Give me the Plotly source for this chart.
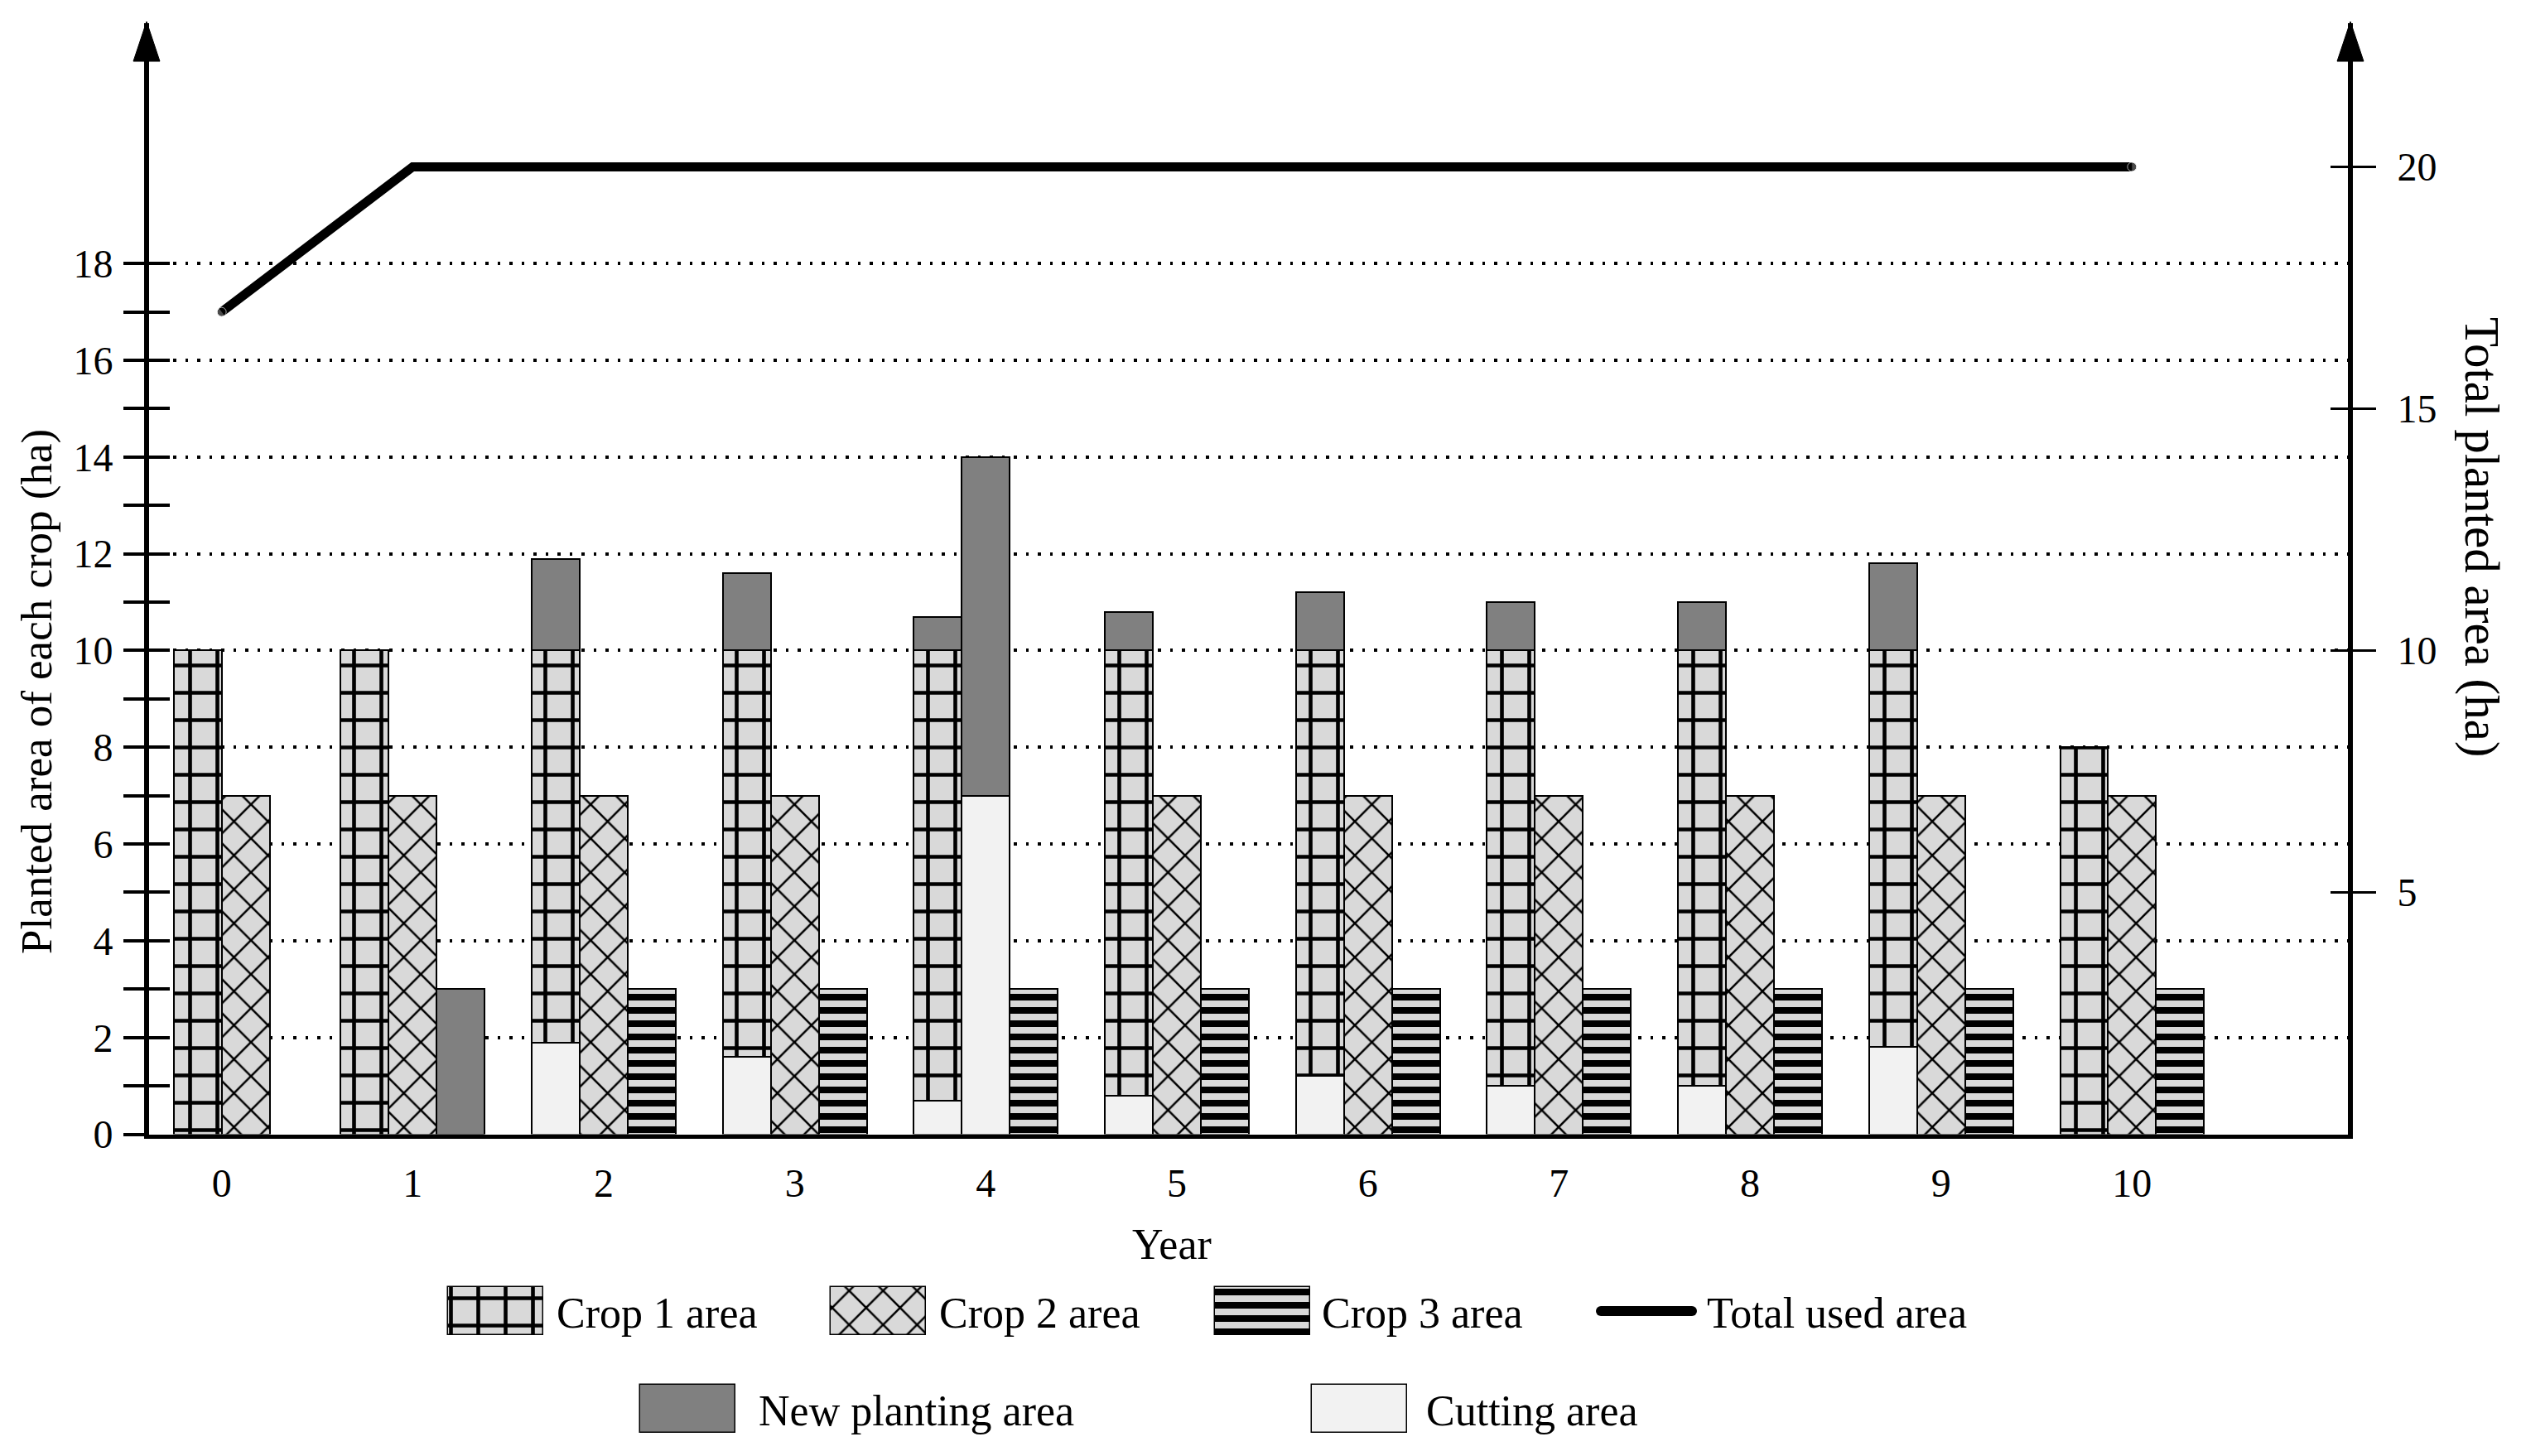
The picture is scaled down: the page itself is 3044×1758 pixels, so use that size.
import plotly.graph_objects as go

# ---------------- data ----------------
years = list(range(11))
year_labels = [str(y) for y in years]
crop1_area = [10, 10, 10, 10, 10, 10, 10, 10, 10, 10, 8]
crop2_area = [7, 7, 7, 7, 0, 7, 7, 7, 7, 7, 7]
crop3_area = [0, 0, 3, 3, 3, 3, 3, 3, 3, 3, 3]
cut_crop1 = [0, 0, 1.9, 1.6, 0.7, 0.8, 1.2, 1.0, 1.0, 1.8, 0]
new_crop1 = [0, 0, 1.9, 1.6, 0.7, 0.8, 1.2, 1.0, 1.0, 1.8, 0]
cut_crop2 = [0, 0, 0, 0, 7, 0, 0, 0, 0, 0, 0]
new_crop2 = [0, 0, 0, 0, 7, 0, 0, 0, 0, 0, 0]
new_crop3 = [0, 3, 0, 0, 0, 0, 0, 0, 0, 0, 0]
total_used = [17, 20, 20, 20, 20, 20, 20, 20, 20, 20, 20]
left_ticks = [0, 2, 4, 6, 8, 10, 12, 14, 16, 18]
right_ticks = [5, 10, 15, 20]
legend_labels = ["Crop 1 area", "Crop 2 area", "Crop 3 area", "Total used area",
                 "New planting area", "Cutting area"]

# ---------------- layout constants (pixels) ----------------
W, H = 3044, 1758
FONT = "Liberation Serif"
X_LEFT, X_RIGHT = 180, 2835       # plot domain (px)
Y_TOP, Y_BOT = 28, 1369.5
XR = [-0.38, 11.13]
YR = [0, 22.97]
BW = 0.251                         # bar width in x units

def px(x):
    return x / W

def py(y):
    return 1 - y / H

CROP_BG = "#d9d9d9"
NEW_C = "#808080"
CUT_C = "#f2f2f2"
OUT = dict(color="black", width=2)

pat1 = dict(shape="+", size=33, solidity=0.26, fgcolor="black", bgcolor=CROP_BG, fillmode="replace")
pat2 = dict(shape="x", size=29, solidity=0.17, fgcolor="black", bgcolor=CROP_BG, fillmode="replace")
pat3 = dict(shape="-", size=16, solidity=0.5, fgcolor="black", bgcolor=CROP_BG, fillmode="replace")

# column positions per year
col_x = []
for i, yv in enumerate(years):
    n = 3 if (crop3_area[i] > 0 or new_crop3[i] > 0) else 2
    col_x.append([yv + (k - (n - 1) / 2) * BW for k in range(n)])

def nz(v):
    return v if v > 0 else None

fig = go.Figure()

# crop 1 column
fig.add_trace(go.Bar(x=[c[0] for c in col_x], y=[nz(crop1_area[i] - cut_crop1[i]) for i in range(11)],
                     base=cut_crop1, width=BW, marker=dict(pattern=pat1, line=OUT), showlegend=False))
# crop 2 column
fig.add_trace(go.Bar(x=[c[1] for c in col_x], y=[nz(v) for v in crop2_area],
                     base=0, width=BW, marker=dict(pattern=pat2, line=OUT), showlegend=False))
# crop 3 column
x3 = [col_x[i][2] for i in range(11) if len(col_x[i]) == 3]
y3 = [nz(crop3_area[i]) for i in range(11) if len(col_x[i]) == 3]
fig.add_trace(go.Bar(x=x3, y=y3, base=0, width=BW, marker=dict(pattern=pat3, line=OUT), showlegend=False))

# cutting area (bottom of columns)
cx, cy = [], []
for i in range(11):
    if cut_crop1[i] > 0:
        cx.append(col_x[i][0]); cy.append(cut_crop1[i])
    if cut_crop2[i] > 0:
        cx.append(col_x[i][1]); cy.append(cut_crop2[i])
fig.add_trace(go.Bar(x=cx, y=cy, base=0, width=BW, marker=dict(color=CUT_C, line=OUT), showlegend=False))

# new planting area (on top)
nx, ny, nb = [], [], []
for i in range(11):
    if new_crop1[i] > 0:
        nx.append(col_x[i][0]); ny.append(new_crop1[i]); nb.append(crop1_area[i])
    if new_crop2[i] > 0:
        nx.append(col_x[i][1]); ny.append(new_crop2[i]); nb.append(cut_crop2[i])
    if new_crop3[i] > 0:
        nx.append(col_x[i][2]); ny.append(new_crop3[i]); nb.append(0)
fig.add_trace(go.Bar(x=nx, y=ny, base=nb, width=BW, marker=dict(color=NEW_C, line=OUT), showlegend=False))

# total used area line on right axis
msize = [11] + [0] * 9 + [11]
fig.add_trace(go.Scatter(x=years, y=total_used, yaxis="y2", mode="lines+markers",
                         line=dict(color="black", width=11),
                         marker=dict(size=msize, color="black"), showlegend=False))

# ---------------- custom legend (pixel-space subplot) ----------------
sw_w, sw_h = 115, 58
row1, row2 = 1583, 1701
leg_items = [
    (legend_labels[0], 541, row1, dict(pattern=pat1, line=dict(color="black", width=1.5)), 670),
    (legend_labels[1], 1003, row1, dict(pattern=pat2, line=dict(color="black", width=1.5)), 1132),
    (legend_labels[2], 1467, row1, dict(pattern=pat3, line=dict(color="black", width=1.5)), 1594),
    (legend_labels[4], 773, row2, dict(color=NEW_C, line=dict(color="black", width=1.5)), 914),
    (legend_labels[5], 1584, row2, dict(color=CUT_C, line=dict(color="black", width=1.5)), 1720),
]
annotations = []
for lab, x0, yc, mk, tx in leg_items:
    fig.add_trace(go.Bar(orientation="h", y=[yc], x=[sw_w], base=[x0], width=sw_h,
                         marker=mk, xaxis="x5", yaxis="y5", showlegend=False))
    annotations.append(dict(x=px(tx), y=py(yc + 2), xref="paper", yref="paper", text=lab,
                            showarrow=False, xanchor="left", yanchor="middle",
                            font=dict(family=FONT, size=52, color="black")))
fig.add_trace(go.Scatter(x=[1933, 2043], y=[row1, row1], mode="lines+markers",
                         line=dict(color="black", width=12), marker=dict(size=12, color="black"),
                         xaxis="x5", yaxis="y5", showlegend=False))
annotations.append(dict(x=px(2059), y=py(row1 + 2), xref="paper", yref="paper", text=legend_labels[3],
                        showarrow=False, xanchor="left", yanchor="middle",
                        font=dict(family=FONT, size=52, color="black")))

# axis titles
annotations.append(dict(x=px(45), y=py(835), xref="paper", yref="paper",
                        text="Planted area of each crop (ha)", textangle=-90, showarrow=False,
                        xanchor="center", yanchor="middle", font=dict(family=FONT, size=53, color="black")))
annotations.append(dict(x=px(2997), y=py(649), xref="paper", yref="paper",
                        text="Total planted area (ha)", textangle=90, showarrow=False,
                        xanchor="center", yanchor="middle", font=dict(family=FONT, size=59, color="black")))
annotations.append(dict(x=px(1415), y=py(1502), xref="paper", yref="paper", text="Year",
                        showarrow=False, xanchor="center", yanchor="middle",
                        font=dict(family=FONT, size=52, color="black")))

# arrowheads on the y axes
shapes = []
for ax_x in (177, 2838):
    path = "M {},{} L {},{} L {},{} Z".format(px(ax_x), py(26), px(ax_x - 16), py(74), px(ax_x + 16), py(74))
    shapes.append(dict(type="path", path=path, xref="paper", yref="paper",
                       fillcolor="black", line=dict(color="black", width=1)))

tickfont = dict(family=FONT, size=48, color="black")
dom_x = [px(X_LEFT), px(X_RIGHT)]
dom_y = [py(Y_BOT), py(Y_TOP)]
odd = list(range(1, 19, 2))

fig.update_layout(
    template="none",
    width=W, height=H, autosize=False,
    margin=dict(l=0, r=0, t=0, b=0, pad=0),
    paper_bgcolor="white", plot_bgcolor="rgba(0,0,0,0)",
    barmode="overlay", bargap=0,
    font=dict(family=FONT, color="black"),
    showlegend=False,
    xaxis=dict(domain=dom_x, range=XR, tickmode="array", tickvals=years, ticktext=year_labels,
               showline=True, linecolor="black", linewidth=5, ticks="", showgrid=False,
               zeroline=False, tickfont=tickfont, ticklabelstandoff=13, automargin=False,
               anchor="y"),
    yaxis=dict(domain=dom_y, range=YR, tickmode="array", tickvals=left_ticks,
               ticks="outside", ticklen=25, tickwidth=3.5, tickcolor="black",
               minor=dict(tickvals=odd, ticks="outside", ticklen=25, tickwidth=3.5,
                          tickcolor="black", showgrid=False),
               showline=True, linecolor="black", linewidth=6, showgrid=False, zeroline=False,
               tickfont=tickfont, ticklabelstandoff=3, automargin=False, anchor="x"),
    yaxis3=dict(overlaying="y", side="left", anchor="x", range=YR, tickmode="array",
                tickvals=left_ticks[1:], ticks="inside", ticklen=25, tickwidth=3.5, tickcolor="black",
                minor=dict(tickvals=odd, ticks="inside", ticklen=25, tickwidth=3.5,
                           tickcolor="black", showgrid=False),
                showticklabels=False, showline=False, zeroline=False,
                showgrid=True, gridcolor="black", gridwidth=3.5, griddash="3.5px,11px",
                automargin=False),
    yaxis2=dict(overlaying="y", side="right", anchor="x", range=YR, tickmode="array",
                tickvals=right_ticks, ticks="outside", ticklen=28, tickwidth=2.5, tickcolor="black",
                showline=True, linecolor="black", linewidth=6, showgrid=False, zeroline=False,
                tickfont=tickfont, ticklabelstandoff=16, automargin=False),
    yaxis4=dict(overlaying="y", side="right", anchor="x", range=YR, tickmode="array",
                tickvals=right_ticks, ticks="inside", ticklen=21, tickwidth=2.5, tickcolor="black",
                showticklabels=False, showline=False, showgrid=False, zeroline=False,
                automargin=False),
    xaxis5=dict(domain=[0, 1], range=[0, W], visible=False, anchor="y5", fixedrange=True),
    yaxis5=dict(domain=[0, 1], range=[H, 0], visible=False, anchor="x5", fixedrange=True),
    annotations=annotations,
    shapes=shapes,
)

# dummy traces so that overlay axes with ticks are rendered
fig.add_trace(go.Scatter(x=[None], y=[None], yaxis="y3", showlegend=False))
fig.add_trace(go.Scatter(x=[None], y=[None], yaxis="y4", showlegend=False))

fig.write_html("out.html", config={"displayModeBar": False},
               post_script="document.body.style.margin='0px';")
